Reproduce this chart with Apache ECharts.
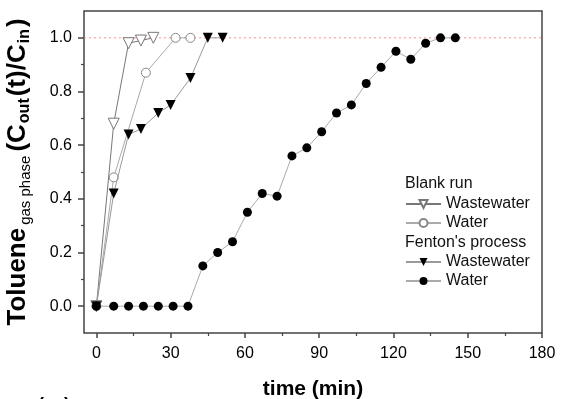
<!DOCTYPE html>
<html>
<head>
<meta charset="utf-8">
<script src="https://cdn.jsdelivr.net/npm/echarts@6/dist/echarts.min.js"></script>
<style>
  html, body { margin: 0; padding: 0; background: #fff; }
  #chart { width: 561px; height: 399px; }
</style>
</head>
<body>
<div id="chart"></div>
<script>
// Toluene breakthrough in the gas phase, blank runs vs. Fenton's process
const blankWasteT = [0, 7, 13, 18, 23];
const blankWasteV = [0, 0.68, 0.98, 0.99, 1.0];

const blankWaterT = [0, 7, 20, 32, 38];
const blankWaterV = [0, 0.48, 0.87, 1.0, 1.0];

const fentonWasteT = [0, 7, 13, 18, 25, 30, 38, 45, 51];
const fentonWasteV = [0, 0.42, 0.64, 0.66, 0.72, 0.75, 0.85, 1.0, 1.0];

const fentonWaterT = [0, 7, 13, 19, 25, 31, 37, 43, 49, 55, 61, 67, 73, 79, 85,
                      91, 97, 103, 109, 115, 121, 127, 133, 139, 145];
const fentonWaterV = [0, 0, 0, 0, 0, 0, 0, 0.15, 0.20, 0.24, 0.35, 0.42, 0.41, 0.56, 0.59,
                      0.65, 0.72, 0.75, 0.83, 0.89, 0.95, 0.92, 0.98, 1.0, 1.0];

const xMajorTicks = [0, 30, 60, 90, 120, 150, 180];
const xMinorTicks = [15, 45, 75, 105, 135, 165];
const yMajorTicks = [0.0, 0.2, 0.4, 0.6, 0.8, 1.0];
const yMinorTicks = [0.1, 0.3, 0.5, 0.7, 0.9];
const saturationLevel = 1.0;

const X_MIN = -5, X_MAX = 180, Y_MIN = -0.1, Y_MAX = 1.1;
const FONT = '"Liberation Sans", Arial, sans-serif';
const AXIS_COLOR = '#444';

function pairs(t, v) { return t.map((x, i) => [x, v[i]]); }

const chart = echarts.init(document.getElementById('chart'), null, { renderer: 'canvas' });

const baseX = {
  type: 'value', min: X_MIN, max: X_MAX, position: 'bottom',
  axisLine: { show: false, onZero: false }, splitLine: { show: false }
};
const baseY = {
  type: 'value', min: Y_MIN, max: Y_MAX, position: 'left',
  axisLine: { show: false, onZero: false }, splitLine: { show: false }
};

const legendBase = {
  orient: 'vertical', left: 405, itemWidth: 35, itemHeight: 10, itemGap: 3, padding: 0,
  textStyle: { fontFamily: FONT, fontSize: 16, color: '#111' },
  formatter: name => name.split(': ')[1]
};

chart.setOption({
  animation: false,
  backgroundColor: '#fff',
  grid: {
    left: 84, right: 19, top: 11, bottom: 66,
    outerBoundsMode: 'none', containLabel: false,
    show: true, borderColor: AXIS_COLOR, borderWidth: 1.5, backgroundColor: 'transparent'
  },
  xAxis: [
    Object.assign({}, baseX, {
      name: 'time (min)', nameLocation: 'middle', nameGap: 46,
      nameTextStyle: { fontFamily: FONT, fontWeight: 'bold', fontSize: 21, color: '#000' },
      axisTick: { show: true, customValues: xMajorTicks, length: 5, inside: false,
                  lineStyle: { color: AXIS_COLOR, width: 1.5 } },
      axisLabel: { show: true, customValues: xMajorTicks, margin: 13,
                   fontFamily: FONT, fontSize: 16, color: '#000' }
    }),
    Object.assign({}, baseX, {
      axisTick: { show: true, customValues: xMinorTicks, length: 3,
                  lineStyle: { color: AXIS_COLOR, width: 1.2 } },
      axisLabel: { show: false }
    })
  ],
  yAxis: [
    Object.assign({}, baseY, {
      name: '{b|Toluene}{s|gas phase}{b|(C}{sb|out}{b|(t)/C}{sb|in}{b|)}',
      nameLocation: 'middle', nameGap: 51, nameRotate: 90,
      nameTextStyle: {
        rich: {
          b:  { fontFamily: FONT, fontWeight: 'bold', fontSize: 26, color: '#000',
                lineHeight: 30, verticalAlign: 'middle' },
          s:  { fontFamily: FONT, fontSize: 15, color: '#000', padding: [0, 4, 0, 3],
                lineHeight: 14, verticalAlign: 'bottom' },
          sb: { fontFamily: FONT, fontWeight: 'bold', fontSize: 16, color: '#000',
                padding: [0, 2, 0, 1], lineHeight: 14, verticalAlign: 'bottom' }
        }
      },
      axisTick: { show: true, customValues: yMajorTicks, length: 6,
                  lineStyle: { color: AXIS_COLOR, width: 1.5 } },
      axisLabel: { show: true, customValues: yMajorTicks, margin: 12,
                   formatter: v => v.toFixed(1),
                   fontFamily: FONT, fontSize: 16, color: '#000' }
    }),
    Object.assign({}, baseY, {
      axisTick: { show: true, customValues: yMinorTicks, length: 3,
                  lineStyle: { color: AXIS_COLOR, width: 1.2 } },
      axisLabel: { show: false }
    })
  ],
  legend: [
    Object.assign({}, legendBase, {
      top: 196, data: ['Blank run: Wastewater', 'Blank run: Water']
    }),
    Object.assign({}, legendBase, {
      top: 254, data: ["Fenton's process: Wastewater", "Fenton's process: Water"]
    })
  ],
  graphic: [
    { type: 'text', left: 405, top: 176,
      style: { text: 'Blank run', font: '16px ' + FONT, fill: '#111' } },
    { type: 'text', left: 405, top: 235,
      style: { text: "Fenton's process", font: '16px ' + FONT, fill: '#111' } },
    { type: 'text', left: 38, top: 396,
      style: { text: '( a )', font: 'bold 18px ' + FONT, fill: '#000' } }
  ],
  series: [
    {
      // saturation reference level (C_out = C_in)
      name: 'saturation', type: 'line',
      data: [[X_MIN, saturationLevel], [X_MAX, saturationLevel]],
      symbol: 'none', silent: true,
      lineStyle: { color: '#ff8c8c', type: [2, 3], width: 1 },
      z: 1
    },
    {
      name: 'Blank run: Wastewater', type: 'line',
      data: pairs(blankWasteT, blankWasteV),
      symbol: 'triangle', symbolRotate: 180, symbolSize: 11,
      itemStyle: { color: '#fff', borderColor: '#777', borderWidth: 1 },
      lineStyle: { color: '#777', width: 1 },
      z: 3
    },
    {
      name: 'Blank run: Water', type: 'line',
      data: pairs(blankWaterT, blankWaterV),
      symbol: 'circle', symbolSize: 9,
      itemStyle: { color: '#fff', borderColor: '#888', borderWidth: 1 },
      lineStyle: { color: '#aaa', width: 1 },
      z: 3
    },
    {
      name: "Fenton's process: Wastewater", type: 'line',
      data: pairs(fentonWasteT, fentonWasteV),
      symbol: 'triangle', symbolRotate: 180, symbolSize: 10,
      itemStyle: { color: '#000', borderColor: '#000', borderWidth: 0 },
      lineStyle: { color: '#999', width: 1 },
      z: 4
    },
    {
      name: "Fenton's process: Water", type: 'line',
      data: pairs(fentonWaterT, fentonWaterV),
      symbol: 'circle', symbolSize: 9,
      itemStyle: { color: '#000', borderColor: '#000', borderWidth: 0 },
      lineStyle: { color: '#aaa', width: 1 },
      z: 4
    }
  ]
});
</script>
</body>
</html>
